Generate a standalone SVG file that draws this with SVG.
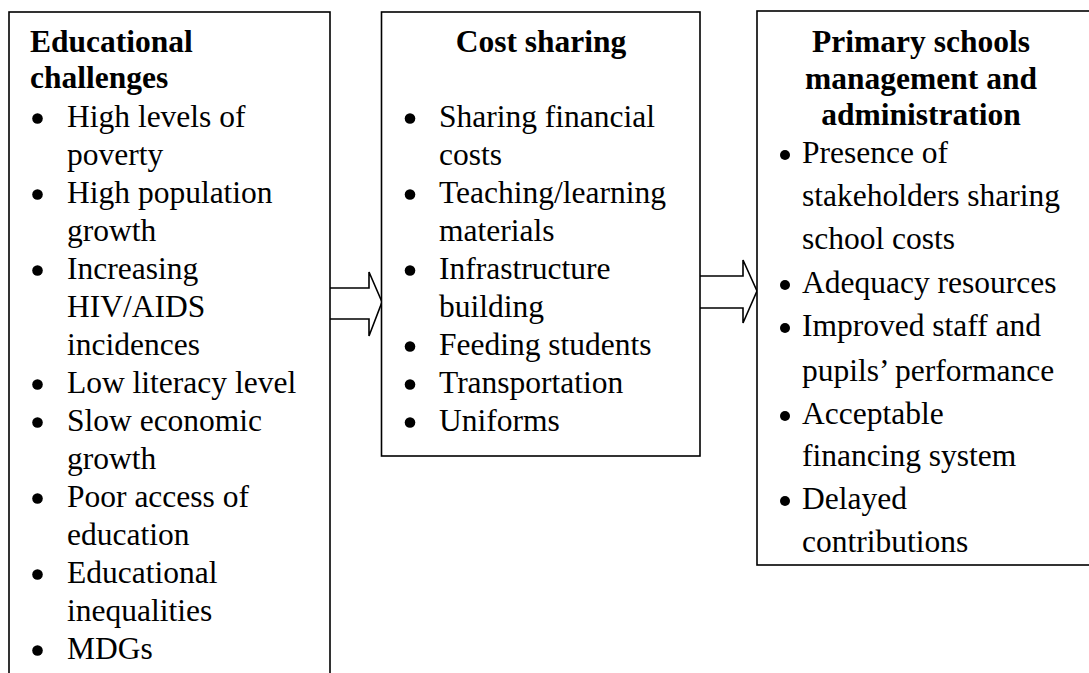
<svg xmlns="http://www.w3.org/2000/svg" width="1089" height="673" viewBox="0 0 1089 673">
  <style>
    .box { fill: #ffffff; stroke: #000000; stroke-width: 1.6; }
    .arrow { fill: #ffffff; stroke: #000000; stroke-width: 1.6; stroke-linejoin: miter; }
    .dot { fill: #000000; }
    text { font-family: "Liberation Serif", "Times New Roman", serif; font-size: 31.5px; fill: #000000; }
    .head { font-weight: bold; }
    .mid { text-anchor: middle; }
  </style>
  <rect width="1089" height="673" fill="#ffffff"/>

  <g id="connectors">
    <path class="arrow" d="M330,288 H369 V272 L382,302 L369,336 V319 H330"/>
    <path class="arrow" d="M700,276 H743 V260 L757,291 L743,323 V308 H700"/>
  </g>

  <g id="educational-challenges">
    <rect class="box" x="9" y="12" width="321" height="700"/>
    <text class="head" x="30" y="52">Educational</text>
    <text class="head" x="30" y="88">challenges</text>
    <g>
      <circle class="dot" cx="37.5" cy="118.5" r="5.3"/>
      <text x="67" y="127">High levels of</text>
      <text x="67" y="165">poverty</text>
      <circle class="dot" cx="37.5" cy="194.5" r="5.3"/>
      <text x="67" y="203">High population</text>
      <text x="67" y="241">growth</text>
      <circle class="dot" cx="37.5" cy="270.5" r="5.3"/>
      <text x="67" y="279">Increasing</text>
      <text x="67" y="317">HIV/AIDS</text>
      <text x="67" y="355">incidences</text>
      <circle class="dot" cx="37.5" cy="384.5" r="5.3"/>
      <text x="67" y="393">Low literacy level</text>
      <circle class="dot" cx="37.5" cy="422.5" r="5.3"/>
      <text x="67" y="431">Slow economic</text>
      <text x="67" y="469">growth</text>
      <circle class="dot" cx="37.5" cy="498.5" r="5.3"/>
      <text x="67" y="507">Poor access of</text>
      <text x="67" y="545">education</text>
      <circle class="dot" cx="37.5" cy="574.5" r="5.3"/>
      <text x="67" y="583">Educational</text>
      <text x="67" y="621">inequalities</text>
      <circle class="dot" cx="37.5" cy="650.5" r="5.3"/>
      <text x="67" y="659">MDGs</text>
    </g>
  </g>

  <g id="cost-sharing">
    <rect class="box" x="381.5" y="12" width="318.5" height="444"/>
    <text class="head mid" x="541" y="52">Cost sharing</text>
    <g>
      <circle class="dot" cx="410" cy="118.5" r="5.3"/>
      <text x="439" y="127">Sharing financial</text>
      <text x="439" y="165">costs</text>
      <circle class="dot" cx="410" cy="194.5" r="5.3"/>
      <text x="439" y="203">Teaching/learning</text>
      <text x="439" y="241">materials</text>
      <circle class="dot" cx="410" cy="270.5" r="5.3"/>
      <text x="439" y="279">Infrastructure</text>
      <text x="439" y="317">building</text>
      <circle class="dot" cx="410" cy="346.5" r="5.3"/>
      <text x="439" y="355">Feeding students</text>
      <circle class="dot" cx="410" cy="384.5" r="5.3"/>
      <text x="439" y="393">Transportation</text>
      <circle class="dot" cx="410" cy="422.5" r="5.3"/>
      <text x="439" y="431">Uniforms</text>
    </g>
  </g>

  <g id="school-management">
    <rect class="box" x="757" y="11" width="360" height="554"/>
    <text class="head mid" x="921" y="52">Primary schools</text>
    <text class="head mid" x="921" y="89">management and</text>
    <text class="head mid" x="921" y="125">administration</text>
    <g>
      <circle class="dot" cx="785" cy="155" r="5"/>
      <text x="802" y="163">Presence of</text>
      <text x="802" y="206">stakeholders sharing</text>
      <text x="802" y="249">school costs</text>
      <circle class="dot" cx="785" cy="285" r="5"/>
      <text x="802" y="293">Adequacy resources</text>
      <circle class="dot" cx="785" cy="328" r="5"/>
      <text x="802" y="336">Improved staff and</text>
      <text x="802" y="381">pupils’ performance</text>
      <circle class="dot" cx="785" cy="416" r="5"/>
      <text x="802" y="424">Acceptable</text>
      <text x="802" y="466">financing system</text>
      <circle class="dot" cx="785" cy="501" r="5"/>
      <text x="802" y="509">Delayed</text>
      <text x="802" y="552">contributions</text>
    </g>
  </g>
</svg>
